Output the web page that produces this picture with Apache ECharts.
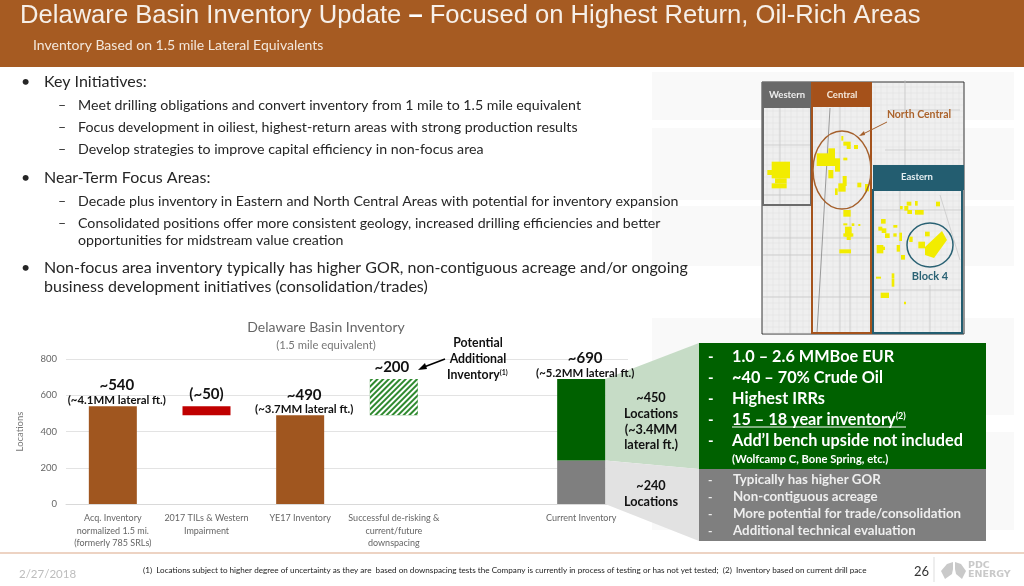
<!DOCTYPE html>
<html><head><meta charset="utf-8">
<style>html,body{margin:0;padding:0;background:#fff}#c{width:1024px;height:586px}</style>
<script src="https://cdn.jsdelivr.net/npm/echarts@6/dist/echarts.min.js"></script>
</head><body><div id="c"></div>
<script>
const categories = ['Acq. Inventory\nnormalized 1.5 mi.\n(formerly 785 SRLs)','2017 TILs & Western\nImpairment','YE17 Inventory','Successful de-risking &\ncurrent/future\ndownspacing','','Current Inventory'];
const offsetValues = [0,490,0,490,0,0];
const brownValues = [540,0,490,0,0,0];
const redValues = [0,50,0,0,0,0];
const hatchValues = [0,0,0,200,0,0];
const greyValues = [0,0,0,0,0,240];
const greenValues = [0,0,0,0,0,450];
const topValues = [540,540,490,690,null,690];
const bigLabels = ['~540','(~50)','~490','~200','','~690'];
const smallLabels = ['(~4.1MM lateral ft.)','','(~3.7MM lateral ft.)','','','(~5.2MM lateral ft.)'];
const yTicks = {min:0,max:800,interval:200};

const SANS = 'Lato';
const g = [];
function T(x,y,text,size,fill,o){o=o||{};g.push({type:'text',z:o.z||50,style:{x:x,y:y,text:text,fontSize:size,fontFamily:o.font||SANS,fontWeight:o.w||'normal',fill:fill,align:o.a||'left',verticalAlign:'middle',lineHeight:o.lh,rich:o.rich}});}
function R(x,y,w,h,fill,o){o=o||{};g.push({type:'rect',z:o.z||10,shape:{x:x,y:y,width:w,height:h},style:{fill:fill,stroke:o.stroke||null,lineWidth:o.lw||0}});}
function L(x1,y1,x2,y2,c,w,z){g.push({type:'line',z:z||10,shape:{x1:x1,y1:y1,x2:x2,y2:y2},style:{stroke:c,lineWidth:w||1}});}
function P(pts,fill,z){g.push({type:'polygon',z:z||10,shape:{points:pts},style:{fill:fill}});}

// faint page backdrop
R(652,72,362,48,'#f9f9f9',{z:1});R(652,128,362,72,'#f9f9f9',{z:1});R(652,206,362,60,'#f9f9f9',{z:1});
R(652,318,362,97,'#f9f9f9',{z:1});R(652,432,362,98,'#f9f9f9',{z:1});

// header
g.push({type:'rect',z:5,shape:{x:0,y:0,width:1024,height:67},style:{fill:'#a65b22'}});
g.push({type:'text',z:50,style:{x:20,y:16,text:'{a|Delaware Basin Inventory Update }{b|–}{a| Focused on Highest Return, Oil-Rich Areas}',verticalAlign:'middle',rich:{a:{fontFamily:'Liberation Sans',fontSize:25.6,fill:'#f6efe8'},b:{fontFamily:'Liberation Sans',fontSize:25.6,fontWeight:'bold',fill:'#fff'}}}});
T(33,45,'Inventory Based on 1.5 mile Lateral Equivalents',14,'#f3e7db');

// bullets
const C='#262626';
[[82,'Key Initiatives:'],[178,'Near-Term Focus Areas:'],[268,'Non-focus area inventory typically has higher GOR, non-contiguous acreage and/or ongoing']].forEach(r=>{T(21,r[0],'•',16,C);T(44,r[0],r[1],16,C);});
T(44,287,'business development initiatives (consolidation/trades)',16,C);
[[105,'Meet drilling obligations and convert inventory from 1 mile to 1.5 mile equivalent'],[127,'Focus development in oiliest, highest-return areas with strong production results'],[149,'Develop strategies to improve capital efficiency in non-focus area'],[201,'Decade plus inventory in Eastern and North Central Areas with potential for inventory expansion'],[223,'Consolidated positions offer more consistent geology, increased drilling efficiencies and better']].forEach(r=>{T(58,r[0],'–',14,C);T(78,r[0],r[1],14.2,C);});
T(78,240,'opportunities for midstream value creation',14.2,C);

// map
R(762,82,202,252,'#efefef',{z:6,stroke:'#333',lw:1});
for(let x=767;x<964;x+=6)L(x,83,x,333,'#dedede',0.5,7);
for(let y=87;y<334;y+=6)L(763,y,963,y,'#dedede',0.5,7);
[[763,145,811,145],[763,195,811,195],[763,238,873,238],[763,255,873,255],[763,297,873,297],[873,210,962,210],[873,290,962,290],[840,82,840,333],[890,110,960,110],[885,150,960,150],[905,80,905,165],[940,195,960,260],[930,285,930,333],[780,108,780,205],[790,205,790,333],[850,205,850,333],[900,190,900,333]].forEach(s=>L(s[0],s[1],s[2],s[3],'#c4c4c4',0.7,7));
L(830,108,817,333,'#999',1,7);
const parcels=[[65,275,55,50],[52,300,15,15],[75,325,35,15],[65,340,45,15],[200,250,55,38],[235,235,20,30],[255,265,15,40],[235,300,15,25],[280,215,22,12],[290,225,12,12],[312,225,12,12],[274,198,6,14],[280,263,12,8],[278,318,12,30],[265,340,22,25],[255,355,8,20],[322,338,12,14],[345,342,12,22],[280,420,22,20],[285,470,20,30],[280,490,30,10],[290,500,12,10],[268,538,35,12],[280,460,12,6],[305,460,8,8],[325,462,6,6],[470,395,14,12],[495,393,8,14],[450,408,8,10],[463,408,12,14],[472,420,14,12],[495,420,26,14],[558,395,12,14],[393,447,14,14],[385,470,12,12],[395,475,14,14],[405,490,14,14],[430,465,12,8],[430,490,10,10],[448,488,8,25],[440,525,10,20],[380,525,20,25],[395,530,10,10],[453,555,12,14],[478,500,10,16],[525,485,14,14],[505,515,20,20],[378,620,15,6],[425,610,8,14],[425,625,8,25],[392,668,25,16],[462,695,6,8]];
parcels.forEach(p=>R(750+p[0]/3,70+p[1]/3,p[2]/3,p[3]/3,'#f2ec00',{z:8}));
P([[925,247],[942,231],[947,240],[934,258],[925,255]],'#f2ec00',8);
// regions
g.push({type:'rect',z:9,shape:{x:763,y:83,width:48,height:122},style:{fill:'none',stroke:'#6b6b6b',lineWidth:2}});
g.push({type:'rect',z:9,shape:{x:812,y:83,width:59,height:250},style:{fill:'none',stroke:'#a5531c',lineWidth:2}});
g.push({type:'rect',z:9,shape:{x:873,y:190,width:89,height:143},style:{fill:'none',stroke:'#235d70',lineWidth:2}});
R(763,83,48,25,'#696969',{z:9});R(813,83,58,24,'#a5511a',{z:9});R(873,165,91,25,'#235d70',{z:9});
T(787,95,'Western',9.5,'#eee',{a:'center',w:'bold'});T(842,95,'Central',9.5,'#f5e9dc',{a:'center',w:'bold'});T(917,177,'Eastern',9.5,'#e6eef1',{a:'center',w:'bold'});
g.push({type:'ellipse',z:9,shape:{cx:842,cy:170,rx:29,ry:39},style:{fill:'none',stroke:'#a5602c',lineWidth:1.5}});
g.push({type:'ellipse',z:9,shape:{cx:930,cy:245,rx:23,ry:22},style:{fill:'none',stroke:'#2a6274',lineWidth:1.5}});
L(887,122,861,135,'#a5602c',1,9);P([[859,136],[864,131],[865,135]],'#a5602c',9);
T(919,115,'North Central',10.5,'#ab632c',{a:'center',w:'bold'});
T(930,276,'Block 4',11,'#2a6274',{a:'center',w:'bold'});

// chart annotation
T(478,343,'Potential',12.3,'#111',{a:'center',w:'bold'});
T(478,359,'Additional',12.3,'#111',{a:'center',w:'bold'});
g.push({type:'text',z:50,style:{x:447,y:375,text:'{a|Inventory}{s|(1)}',verticalAlign:'middle',rich:{a:{fontFamily:SANS,fontSize:12.3,fontWeight:'bold',fill:'#111'},s:{fontFamily:SANS,fontSize:7,fontWeight:'bold',fill:'#111',verticalAlign:'top'}}}});
L(445,359,424,367,'#000',1.5,50);P([[418,370],[425,363],[427,369]],'#000',50);

[[398,'~450'],[414,'Locations'],[430,'(~3.4MM'],[445,'lateral ft.)'],[486,'~240'],[502,'Locations']].forEach(r=>T(651,r[0],r[1],12.7,'#111',{a:'center',w:'bold'}));

// callout boxes
R(699,343,287,126,'#006100',{z:12});R(699,469,287,72,'#7f7f7f',{z:12});
const greenRows=[[357,'1.0 – 2.6 MMBoe EUR'],[378,'~40 – 70% Crude Oil'],[399,'Highest IRRs'],[441,'Add’l bench upside not included']];
greenRows.forEach(r=>{T(708,r[0],'-',15,'#fff',{w:'bold'});T(732,r[0],r[1],16.3,'#fff',{w:'bold'});});
T(708,420,'-',15,'#fff',{w:'bold'});
g.push({type:'text',z:50,style:{x:732,y:420,text:'{a|15 – 18 year inventory}{s|(2)}',verticalAlign:'middle',rich:{a:{fontFamily:SANS,fontSize:16.3,fontWeight:'bold',fill:'#fff'},s:{fontFamily:SANS,fontSize:9,fontWeight:'bold',fill:'#fff',verticalAlign:'top'}}}});
L(732,427,906,427,'#fff',1,50);
T(732,459,'(Wolfcamp C, Bone Spring, etc.)',11.2,'#fff',{w:'bold'});
[[480,'Typically has higher GOR'],[497,'Non-contiguous acreage'],[514,'More potential for trade/consolidation'],[531,'Additional technical evaluation']].forEach(r=>{T(708,r[0],'-',12,'#eee',{w:'bold'});T(733,r[0],r[1],13.3,'#eee',{w:'bold'});});

// footer
L(0,553,1024,553,'#dba888',1.2,10);
T(19,574,'2/27/2018',11.5,'#bdbdbd');
T(143,570,'(1)  Locations subject to higher degree of uncertainty as they are  based on downspacing tests the Company is currently in process of testing or has not yet tested;  (2)  Inventory based on current drill pace',8.14,'#222');
T(914,572,'26',13,'#333');
L(934,557,934,582,'#ddd',1,10);
P([[953,562],[947,564],[941,571],[945,579],[952,574],[953,569]],'#c9c9c9',10);P([[955,562],[961,564],[966,571],[962,579],[956,574],[955,569]],'#c9c9c9',10);
T(968,566,'PDC',9.5,'#c9c9c9',{w:'bold',font:'DejaVu Sans'});T(968,575,'ENERGY',9.5,'#c9c9c9',{w:'bold',font:'DejaVu Sans'});

const chart = echarts.init(document.getElementById('c'));
function bar(name,data,color,extra){return Object.assign({name:name,type:'bar',stack:'s',data:data,barWidth:48,silent:true,itemStyle:{color:color}},extra||{});}
const labelShift = [[4,3],[0,-1],[4,3],[-2,-1],[0,0],[4,3]];
const option = {
  animation:false,
  backgroundColor:'#fff',
  title:{text:'Delaware Basin Inventory',subtext:'(1.5 mile equivalent)',left:321,top:315,textAlign:'center',itemGap:6,
    textStyle:{fontFamily:SANS,fontSize:14,fontWeight:'normal',color:'#666'},subtextStyle:{fontFamily:SANS,fontSize:11.3,color:'#777'}},
  grid:{left:66,right:396,top:359,bottom:82},
  xAxis:{type:'category',data:categories,axisTick:{show:false},axisLine:{lineStyle:{color:'#d9d9d9'}},
    axisLabel:{interval:0,margin:8,fontFamily:SANS,fontSize:9,lineHeight:12.5,color:'#666'}},
  yAxis:{type:'value',min:yTicks.min,max:yTicks.max,interval:yTicks.interval,name:'Locations',nameLocation:'middle',nameGap:41,
    nameTextStyle:{fontFamily:SANS,fontSize:9.5,color:'#777'},axisLine:{show:false},axisTick:{show:false},
    axisLabel:{fontFamily:SANS,fontSize:9.5,color:'#666',margin:9},splitLine:{lineStyle:{color:'#e3e3e3'}}},
  series:[
    bar('offset',offsetValues,'transparent'),
    bar('brown',brownValues,'#a0561f'),
    bar('red',redValues,'#c00000'),
    bar('hatch',hatchValues,'#ffffff',{itemStyle:{color:'#2f8a2f',decal:{symbol:'rect',symbolSize:1,dashArrayX:[1,0],dashArrayY:[1.5,1.2],rotation:-Math.PI/4,color:'#ffffff'}}}),
    bar('grey',greyValues,'#7f7f7f'),
    bar('green',greenValues,'#006100'),
    {name:'labels',type:'line',data:topValues.map((v,i)=>({value:v,label:{offset:labelShift[i]}})),symbol:'circle',symbolSize:1,showSymbol:true,silent:true,itemStyle:{opacity:0},lineStyle:{opacity:0},z:20,
     label:{show:true,opacity:1,position:'top',distance:2,align:'center',
       formatter:p=>{const s=smallLabels[p.dataIndex];return '{b|'+bigLabels[p.dataIndex]+'}'+(s?'\n{s|'+s+'}':'');},
       rich:{b:{fontFamily:SANS,fontSize:15,fontWeight:'bold',color:'#111',lineHeight:16},s:{fontFamily:SANS,fontSize:11.4,fontWeight:'bold',color:'#111',lineHeight:13}}}}
  ],
  graphic:{elements:g}
};
chart.setOption(option);
// connector wedges, anchored on the stacked bar of the last category through the axis scales
const last = categories.length-1;
const pxBase = chart.convertToPixel({xAxisIndex:0,yAxisIndex:0},[last,0]);
const pxMid = chart.convertToPixel({xAxisIndex:0,yAxisIndex:0},[last,greyValues[last]]);
const pxTop = chart.convertToPixel({xAxisIndex:0,yAxisIndex:0},[last,greyValues[last]+greenValues[last]]);
const rx = pxBase[0]+24;
g.push({type:'polygon',z:1,shape:{points:[[rx,pxTop[1]],[699,343],[699,469],[rx,pxMid[1]]]},style:{fill:'#c6dcc6'}});
g.push({type:'polygon',z:1,shape:{points:[[rx,pxMid[1]],[699,469],[699,541],[rx,pxBase[1]]]},style:{fill:'#e2e2e2'}});
chart.setOption({graphic:{elements:g}},{replaceMerge:['graphic']});
</script></body></html>
